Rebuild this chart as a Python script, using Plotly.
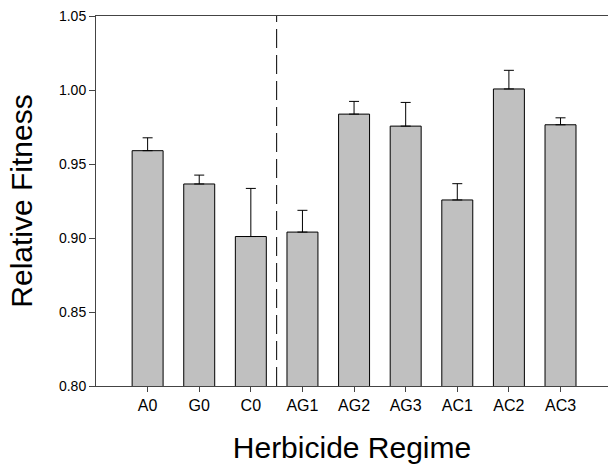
import plotly.graph_objects as go

# Herbicide regimes and mean relative fitness with standard errors
regimes = ["A0", "G0", "C0", "AG1", "AG2", "AG3", "AC1", "AC2", "AC3"]
fitness = [0.959, 0.9365, 0.901, 0.904, 0.9837, 0.9756, 0.9257, 1.0007, 0.9765]
std_err = [0.0087, 0.006, 0.0325, 0.0147, 0.0086, 0.016, 0.011, 0.0126, 0.0047]

y_ticks = [0.80, 0.85, 0.90, 0.95, 1.00, 1.05]
y_tick_text = ["0.80", "0.85", "0.90", "0.95", "1.00", "1.05"]

FONT = "Liberation Sans, Arial, sans-serif"

fig = go.Figure(
    go.Bar(
        x=regimes,
        y=fitness,
        base=0,
        width=0.6,
        marker=dict(color="#c0c0c0", line=dict(color="#000000", width=1)),
        error_y=dict(
            type="data",
            array=std_err,
            arrayminus=[0] * len(std_err),
            symmetric=False,
            color="#000000",
            thickness=1,
            width=5,
        ),
    )
)

# dashed separator between single-herbicide and combined regimes
fig.add_shape(
    type="line",
    xref="x",
    yref="y",
    x0=2.5,
    x1=2.5,
    y0=0.80,
    y1=1.05,
    line=dict(color="#000000", width=1, dash="19px,7px"),
)

fig.update_layout(
    width=608,
    height=468,
    margin=dict(l=96, r=0, t=16, b=82),
    paper_bgcolor="white",
    plot_bgcolor="white",
    showlegend=False,
    font=dict(family=FONT, color="#000000"),
    xaxis=dict(
        type="category",
        range=[-1, 8.92],
        showgrid=False,
        zeroline=False,
        showline=True,
        linecolor="#444444",
        linewidth=1,
        mirror=True,
        ticks="outside",
        ticklen=5,
        tickcolor="#444444",
        tickfont=dict(family=FONT, size=16, color="#000000"),
        title=dict(
            text="Herbicide Regime",
            font=dict(family=FONT, size=30, color="#000000"),
            standoff=23,
        ),
    ),
    yaxis=dict(
        range=[0.80, 1.05],
        tickvals=y_ticks,
        ticktext=y_tick_text,
        showgrid=False,
        zeroline=False,
        showline=True,
        linecolor="#444444",
        linewidth=1,
        ticks="outside",
        ticklen=6,
        tickcolor="#444444",
        tickfont=dict(family=FONT, size=14, color="#000000"),
        title=dict(
            text="Relative Fitness",
            font=dict(family=FONT, size=30, color="#000000"),
            standoff=17,
        ),
    ),
)

fig.write_html("out.html")
